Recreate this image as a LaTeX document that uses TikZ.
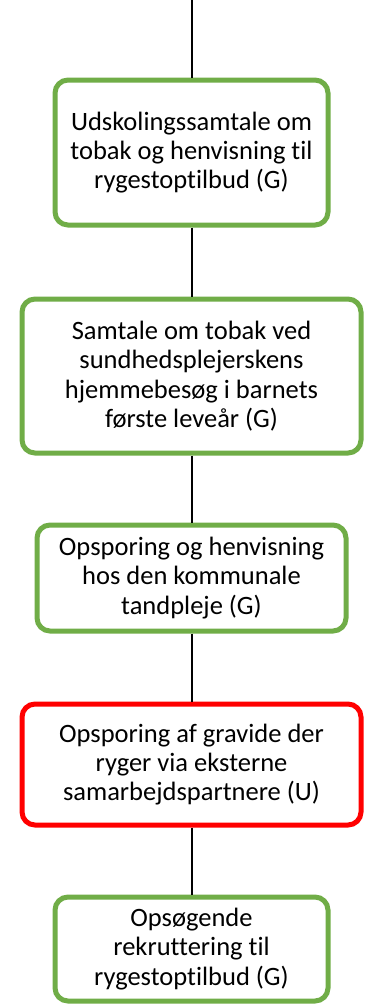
\documentclass[tikz,border=0pt]{standalone}
\usepackage{fontspec}
\setmainfont[Ligatures=CommonOff]{Carlito}
\begin{document}
\begin{tikzpicture}[x=1pt,y=-1pt,
  box/.style={draw=boxgreen,line width=5pt,rounded corners=13pt,fill=white,
    align=center,font=\fontsize{26.5}{29.3}\selectfont,inner sep=0pt},
  redbox/.style={box,draw=boxred},
  conn/.style={line width=2pt,black}]
\definecolor{boxgreen}{HTML}{70AD47}
\definecolor{boxred}{HTML}{FF0000}
\useasboundingbox (0,0) rectangle (372,1005);
\node[box,minimum width=273pt,minimum height=145pt] (b1) at (191.5,152.5)
  {Udskolingssamtale om\\tobak og henvisning til\\rygestoptilbud (G)};
\node[box,minimum width=339pt,minimum height=154pt] (b2) at (191.5,376)
  {Samtale om tobak ved\\sundhedsplejerskens\\hjemmebesøg i barnets\\første leveår (G)};
\node[box,minimum width=309pt,minimum height=106pt] (b3) at (191.5,578)
  {Opsporing og henvisning\\hos den kommunale\\tandpleje (G)};
\node[redbox,minimum width=339pt,minimum height=121pt] (b4) at (191.5,764.5)
  {Opsporing af gravide der\\ryger via eksterne\\samarbejdspartnere (U)};
\node[box,minimum width=273pt,minimum height=104pt] (b5) at (191.5,949)
  {Opsøgende\\rekruttering til\\rygestoptilbud (G)};
\coordinate (top) at (191.5,0);
\draw[conn] (top) -- (b1.north);
\draw[conn] (b1.south) -- (b2.north);
\draw[conn] (b2.south) -- (b3.north);
\draw[conn] (b3.south) -- (b4.north);
\draw[conn] (b4.south) -- (b5.north);
\end{tikzpicture}
\end{document}
